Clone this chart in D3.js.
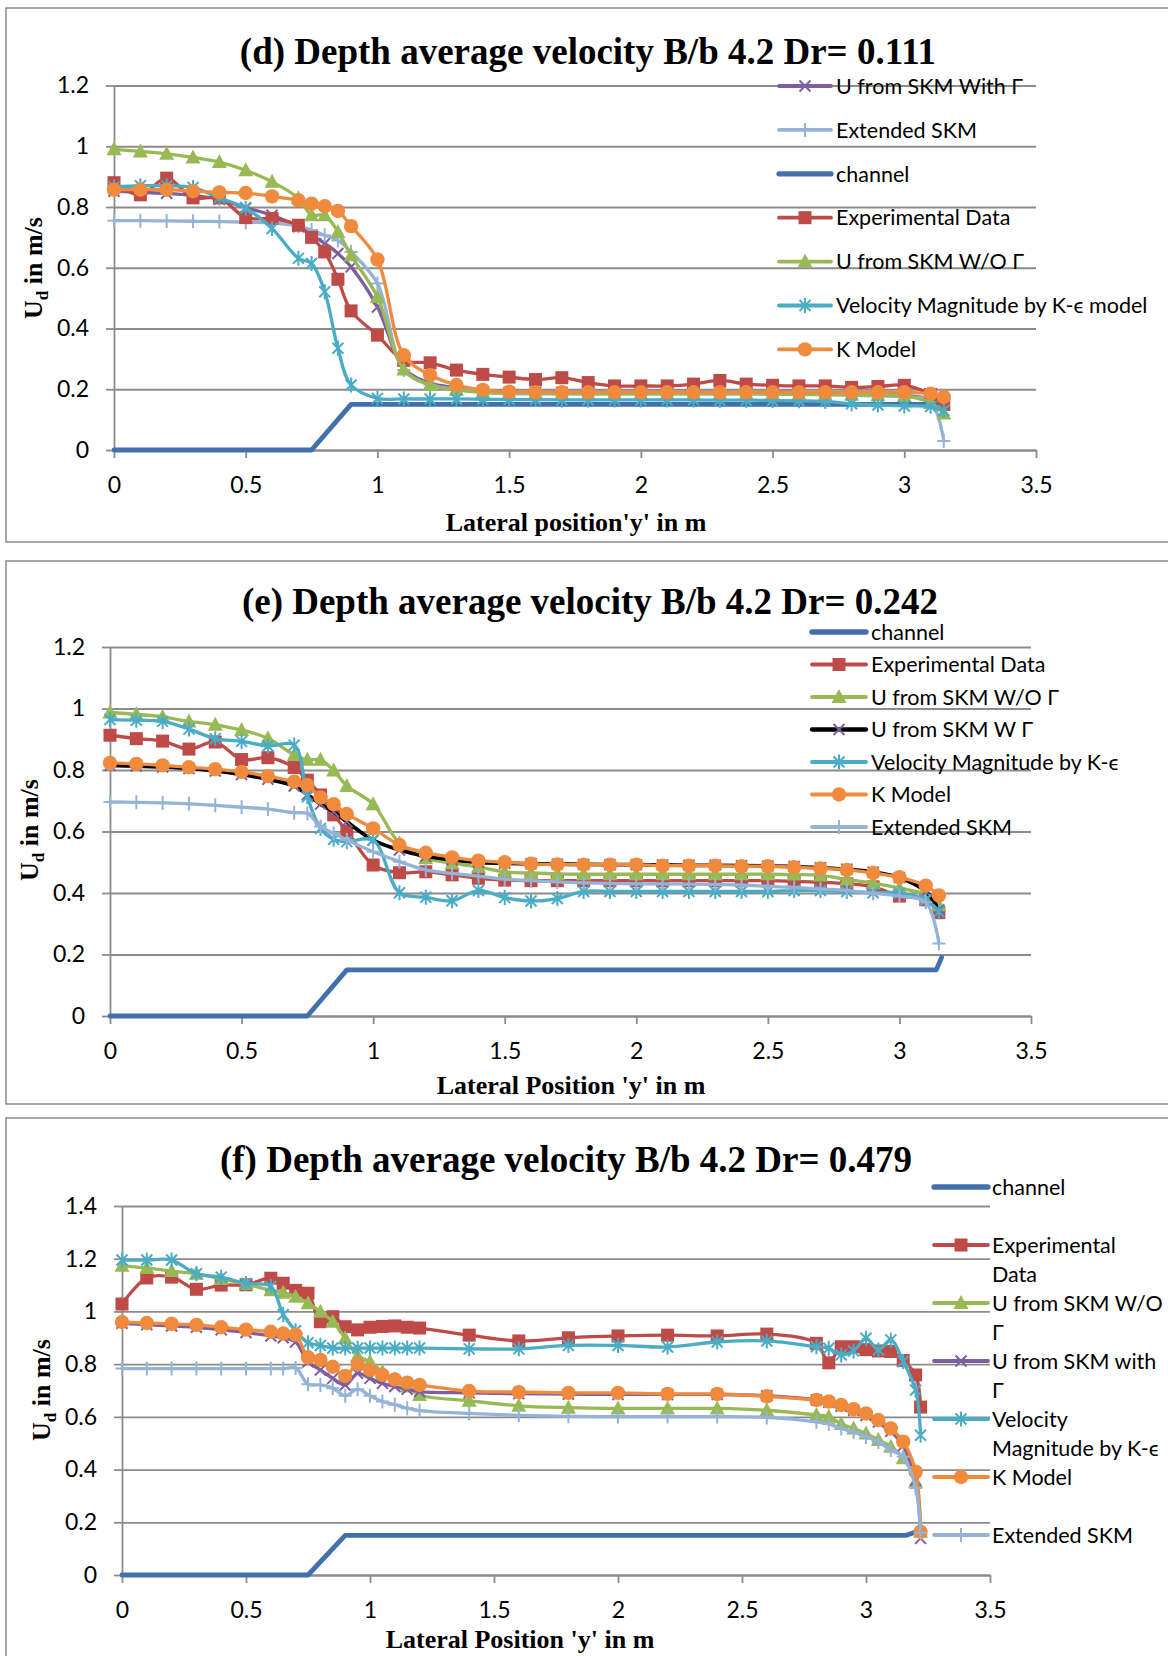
<!DOCTYPE html>
<html>
<head>
<meta charset="utf-8">
<script src="https://cdn.jsdelivr.net/npm/d3@7"></script>
<style>
  body { margin: 0; background: #fff; }
  svg { display: block; }
</style>
</head>
<body>
<svg id="chart" width="1168" height="1656"></svg>
<script>
// ---------------- DATA ----------------
const xTicks = [0, 0.5, 1, 1.5, 2, 2.5, 3, 3.5];
const yTicksDE = [0, 0.2, 0.4, 0.6, 0.8, 1, 1.2];
const yTicksF = [0, 0.2, 0.4, 0.6, 0.8, 1, 1.2, 1.4];

// lateral positions of the measured / computed points
const xD = [0, 0.1, 0.2, 0.3, 0.4, 0.5, 0.6, 0.7, 0.75, 0.8, 0.85, 0.9, 1.0, 1.1, 1.2, 1.3, 1.4,
  1.5, 1.6, 1.7, 1.8, 1.9, 2.0, 2.1, 2.2, 2.3, 2.4, 2.5, 2.6,
  2.7, 2.8, 2.9, 3.0, 3.1, 3.15];
const xE = xD;
const xF = [0, 0.1, 0.2, 0.3, 0.4, 0.5, 0.6,
  0.65, 0.7, 0.75, 0.8, 0.85, 0.9, 0.95, 1.0, 1.05, 1.1, 1.15, 1.2,
  1.4, 1.6, 1.8, 2.0, 2.2, 2.4, 2.6,
  2.8, 2.85, 2.9, 2.95, 3.0, 3.05, 3.1, 3.15, 3.2, 3.22];

// channel cross-section outline
const chanXD = [0, 0.75, 0.9, 3.15];
const chanYD = [0, 0, 0.15, 0.15];
const chanXE = [0, 0.75, 0.9, 3.14, 3.16];
const chanYE = [0, 0, 0.15, 0.15, 0.19];
const chanXF = [0, 0.75, 0.9, 3.16, 3.22];
const chanYF = [0, 0, 0.15, 0.15, 0.17];

// (d) Dr = 0.111
const dWithG = [0.852, 0.848, 0.845, 0.838, 0.825, 0.798, 0.773, 0.735, 0.707, 0.68, 0.647, 0.603, 0.471, 0.27, 0.22, 0.205, 0.195,
  0.19, 0.19, 0.19, 0.19, 0.19, 0.19, 0.19, 0.19, 0.19, 0.19, 0.19, 0.19,
  0.188, 0.186, 0.184, 0.18, 0.17, 0.16];
const dExt = [0.755, 0.755, 0.754, 0.753, 0.752, 0.75, 0.748, 0.737, 0.724, 0.707, 0.69, 0.652, 0.548, 0.263, 0.215, 0.2, 0.19,
  0.186, 0.185, 0.185, 0.185, 0.185, 0.185, 0.185, 0.185, 0.185, 0.185, 0.184, 0.183,
  0.182, 0.18, 0.178, 0.175, 0.16, 0.03];
const dExp = [0.88, 0.84, 0.895, 0.83, 0.83, 0.765, 0.762, 0.74, 0.70, 0.652, 0.562, 0.458, 0.378, 0.295, 0.287, 0.263, 0.249,
  0.24, 0.232, 0.238, 0.222, 0.211, 0.211, 0.211, 0.217, 0.229, 0.217, 0.213, 0.211,
  0.211, 0.206, 0.209, 0.213, 0.183, 0.15];
const dWo = [0.99, 0.983, 0.975, 0.963, 0.948, 0.921, 0.883, 0.829, 0.773, 0.773, 0.718, 0.641, 0.504, 0.265, 0.214, 0.198, 0.19,
  0.188, 0.187, 0.186, 0.185, 0.185, 0.185, 0.185, 0.185, 0.185, 0.185, 0.185, 0.184,
  0.183, 0.182, 0.18, 0.178, 0.155, 0.12];
const dKe = [0.866, 0.87, 0.87, 0.864, 0.83, 0.796, 0.729, 0.631, 0.614, 0.521, 0.335, 0.214, 0.17, 0.168, 0.168, 0.168, 0.167,
  0.166, 0.166, 0.165, 0.165, 0.165, 0.165, 0.165, 0.165, 0.164, 0.164, 0.163, 0.162,
  0.16, 0.152, 0.148, 0.145, 0.143, 0.13];
const dK = [0.857, 0.857, 0.857, 0.852, 0.848, 0.846, 0.835, 0.822, 0.811, 0.803, 0.787, 0.737, 0.627, 0.312, 0.247, 0.214, 0.198,
  0.192, 0.19, 0.19, 0.19, 0.19, 0.19, 0.19, 0.19, 0.19, 0.19, 0.19, 0.19,
  0.19, 0.19, 0.19, 0.19, 0.185, 0.175];

// (e) Dr = 0.242
const eExp = [0.913, 0.902, 0.894, 0.868, 0.891, 0.834, 0.84, 0.808, 0.767, 0.719, 0.654, 0.602, 0.491, 0.466, 0.469, 0.459, 0.448,
  0.442, 0.44, 0.44, 0.44, 0.44, 0.44, 0.44, 0.44, 0.44, 0.44, 0.44, 0.438,
  0.435, 0.43, 0.42, 0.39, 0.378, 0.336];
const eWo = [0.987, 0.981, 0.973, 0.958, 0.947, 0.93, 0.903, 0.849, 0.833, 0.833, 0.798, 0.748, 0.689, 0.562, 0.513, 0.497, 0.485,
  0.469, 0.465, 0.462, 0.461, 0.461, 0.461, 0.461, 0.461, 0.461, 0.461, 0.461, 0.46,
  0.457, 0.444, 0.432, 0.416, 0.395, 0.36];
const eWithG = [0.815, 0.813, 0.81, 0.805, 0.797, 0.785, 0.77, 0.748, 0.72, 0.689, 0.664, 0.632, 0.572, 0.54, 0.52, 0.508, 0.5,
  0.497, 0.495, 0.494, 0.493, 0.492, 0.492, 0.491, 0.49, 0.49, 0.489, 0.488, 0.486,
  0.482, 0.477, 0.468, 0.45, 0.405, 0.345];
const eKe = [0.964, 0.962, 0.958, 0.933, 0.902, 0.893, 0.878, 0.881, 0.713, 0.61, 0.575, 0.567, 0.572, 0.401, 0.386, 0.375, 0.408,
  0.385, 0.374, 0.382, 0.405, 0.405, 0.405, 0.405, 0.405, 0.405, 0.405, 0.405, 0.408,
  0.408, 0.405, 0.401, 0.4, 0.377, 0.339];
const eK = [0.823, 0.82, 0.815, 0.809, 0.803, 0.794, 0.78, 0.762, 0.751, 0.711, 0.689, 0.657, 0.61, 0.556, 0.531, 0.516, 0.505,
  0.5, 0.495, 0.493, 0.492, 0.492, 0.492, 0.489, 0.489, 0.489, 0.487, 0.487, 0.484,
  0.48, 0.475, 0.465, 0.451, 0.424, 0.392];
const eExt = [0.696, 0.695, 0.693, 0.69, 0.685, 0.679, 0.673, 0.661, 0.659, 0.616, 0.594, 0.572, 0.534, 0.502, 0.475, 0.464, 0.455,
  0.445, 0.44, 0.436, 0.433, 0.431, 0.43, 0.43, 0.429, 0.428, 0.426, 0.422, 0.418,
  0.413, 0.408, 0.399, 0.39, 0.37, 0.236];

// (f) Dr = 0.479
const fExp = [1.028, 1.127, 1.13, 1.084, 1.10, 1.101, 1.126,
  1.107, 1.08, 1.069, 0.961, 0.98, 0.942, 0.93, 0.94, 0.943, 0.945, 0.94, 0.937,
  0.91, 0.888, 0.9, 0.907, 0.91, 0.907, 0.914,
  0.879, 0.805, 0.866, 0.866, 0.855, 0.85, 0.848, 0.814, 0.759, 0.637];
const fWo = [1.173, 1.165, 1.153, 1.143, 1.123, 1.104, 1.08,
  1.071, 1.056, 1.031, 0.999, 0.961, 0.898, 0.831, 0.809, 0.771, 0.742, 0.715, 0.683,
  0.661, 0.642, 0.635, 0.632, 0.632, 0.632, 0.625,
  0.607, 0.6, 0.573, 0.556, 0.537, 0.512, 0.487, 0.443, 0.354, 0.164];
const fWithG = [0.955, 0.95, 0.945, 0.94, 0.93, 0.92, 0.907,
  0.9, 0.884, 0.809, 0.778, 0.746, 0.721, 0.765, 0.746, 0.727, 0.715, 0.705, 0.696,
  0.691, 0.688, 0.686, 0.685, 0.685, 0.685, 0.68,
  0.664, 0.655, 0.64, 0.625, 0.605, 0.58, 0.545, 0.49, 0.36, 0.139];
const fKe = [1.195, 1.195, 1.195, 1.143, 1.13, 1.106, 1.095,
  0.988, 0.927, 0.881, 0.871, 0.861, 0.861, 0.861, 0.861, 0.861, 0.861, 0.861, 0.861,
  0.858, 0.858, 0.871, 0.871, 0.865, 0.884, 0.888,
  0.866, 0.86, 0.835, 0.85, 0.898, 0.854, 0.892, 0.81, 0.702, 0.53];
const fK = [0.96, 0.956, 0.953, 0.949, 0.94, 0.931, 0.923,
  0.916, 0.912, 0.826, 0.816, 0.79, 0.755, 0.8, 0.778, 0.759, 0.742, 0.73, 0.721,
  0.698, 0.694, 0.691, 0.691, 0.687, 0.687, 0.678,
  0.664, 0.658, 0.645, 0.629, 0.613, 0.588, 0.556, 0.506, 0.392, 0.164];
const fExt = [0.783, 0.783, 0.783, 0.783, 0.783, 0.783, 0.783,
  0.783, 0.785, 0.724, 0.721, 0.709, 0.68, 0.705, 0.68, 0.658, 0.646, 0.633, 0.624,
  0.613, 0.606, 0.602, 0.601, 0.601, 0.601, 0.598,
  0.581, 0.573, 0.556, 0.543, 0.524, 0.505, 0.474, 0.449, 0.33, 0.16];

// titles and legend labels
const titles = ['(d) Depth average velocity B/b 4.2 Dr= 0.111',
  '(e) Depth average velocity B/b 4.2 Dr= 0.242',
  '(f) Depth average velocity B/b 4.2 Dr= 0.479'];
const xTitles = ["Lateral position'y' in m", "Lateral Position 'y' in m", "Lateral Position 'y' in m"];
const legendD = ['U from SKM With Γ', 'Extended SKM', 'channel', 'Experimental Data',
  'U from SKM W/O Γ', 'Velocity Magnitude by K-ϵ model', 'K Model'];
const legendE = ['channel', 'Experimental Data', 'U from SKM W/O Γ', 'U from SKM W Γ',
  'Velocity Magnitude by K-ϵ', 'K Model', 'Extended SKM'];
const legendF = [['channel'], ['Experimental', 'Data'], ['U from SKM W/O', 'Γ'], ['U from SKM with', 'Γ'],
  ['Velocity', 'Magnitude by K-ϵ'], ['K Model'], ['Extended SKM']];

// ---------------- STYLES ----------------
const styles = {
  channel: { line: '#4170AD', width: 4.8, marker: null, curve: d3.curveLinear },
  exp: { line: '#BE4B48', width: 3.3, marker: 'square', mcolor: '#BE4B48' },
  wo: { line: '#98B954', width: 3.3, marker: 'triangle', mcolor: '#98B954' },
  withG: { line: '#7D5FA0', width: 3.3, marker: 'x', mcolor: '#7D5FA0' },
  withGBlack: { line: '#000000', width: 3.8, marker: 'x', mcolor: '#7D5FA0' },
  ke: { line: '#4AACC5', width: 3.3, marker: 'star', mcolor: '#4AACC5' },
  k: { line: '#F08A3C', width: 3.3, marker: 'circle', mcolor: '#F08A3C' },
  ext: { line: '#95B3D7', width: 3.3, marker: 'plus', mcolor: '#95B3D7' }
};
const smooth = d3.curveCatmullRom.alpha(0.5);
const GRID = '#8C8C8C';
const SERIF = "'Liberation Serif', 'Times New Roman', serif";
const SANS = "Lato, 'Open Sans', sans-serif";

// panel layouts
const panels = [
  {
    box: [6, 8, 1180, 534], left: 114, right: 1036, top: 85.5, bottom: 450, yMax: 1.2, yTicks: yTicksDE,
    title: titles[0], titleX: 588, titleY: 64, xTitle: xTitles[0], xTitleX: 576, xTitleY: 531, yTitleX: 42, yTitleY: 268,
    series: [['withG', xD, dWithG], ['ext', xD, dExt], ['channel', chanXD, chanYD], ['exp', xD, dExp],
      ['wo', xD, dWo], ['ke', xD, dKe], ['k', xD, dK]],
    legend: { labels: legendD.map(l => [l]), x0: 779, x1: 831, tx: 836, top: 86, step: 43.9, lineStep: 0 }
  },
  {
    box: [6, 561, 1180, 543], left: 110, right: 1031, top: 647, bottom: 1016, yMax: 1.2, yTicks: yTicksDE,
    title: titles[1], titleX: 590, titleY: 614, xTitle: xTitles[1], xTitleX: 571, xTitleY: 1094, yTitleX: 38, yTitleY: 830,
    series: [['channel', chanXE, chanYE], ['exp', xE, eExp], ['wo', xE, eWo], ['withGBlack', xE, eWithG],
      ['ke', xE, eKe], ['k', xE, eK], ['ext', xE, eExt]],
    legend: { labels: legendE.map(l => [l]), x0: 812, x1: 866, tx: 871, top: 632, step: 32.5, lineStep: 0 }
  },
  {
    box: [6, 1118, 1180, 560], left: 122, right: 990, top: 1206, bottom: 1575, yMax: 1.4, yTicks: yTicksF,
    title: titles[2], titleX: 566, titleY: 1172, xTitle: xTitles[2], xTitleX: 520, xTitleY: 1648, yTitleX: 50, yTitleY: 1390,
    series: [['channel', chanXF, chanYF], ['exp', xF, fExp], ['wo', xF, fWo], ['withG', xF, fWithG],
      ['ke', xF, fKe], ['k', xF, fK], ['ext', xF, fExt]],
    legend: { labels: legendF, x0: 934, x1: 988, tx: 992, top: 1187, step: 58, lineStep: 29 }
  }
];

const svg = d3.select('#chart');

// draw one marker shape into a <g> centred on 0,0
function drawMarker(g, type, color) {
  if (type === 'circle') {
    g.append('circle').attr('r', 7.2).attr('fill', color);
  } else if (type === 'square') {
    g.append('rect').attr('x', -6.5).attr('y', -6.5).attr('width', 13).attr('height', 13).attr('fill', color);
  } else if (type === 'triangle') {
    g.append('path').attr('d', 'M0,-8L7.5,6L-7.5,6Z').attr('fill', color);
  } else {
    const paths = {
      x: 'M-5.5,-5.5L5.5,5.5M-5.5,5.5L5.5,-5.5',
      plus: 'M-6.5,0H6.5M0,-7V7',
      star: 'M-5.5,-5.5L5.5,5.5M-5.5,5.5L5.5,-5.5M0,-7.5V7.5'
    };
    g.append('path').attr('d', paths[type]).attr('fill', 'none')
      .attr('stroke', color).attr('stroke-width', 2);
  }
}

function drawPanel(p) {
  const g = svg.append('g');

  // outer frame
  g.append('rect')
    .attr('x', p.box[0]).attr('y', p.box[1]).attr('width', p.box[2]).attr('height', p.box[3])
    .attr('fill', 'none').attr('stroke', GRID).attr('stroke-width', 1.5);

  const x = d3.scaleLinear().domain([0, 3.5]).range([p.left, p.right]);
  const y = d3.scaleLinear().domain([0, p.yMax]).range([p.bottom, p.top]);

  // horizontal gridlines
  g.append('g')
    .attr('transform', `translate(${p.left},0)`)
    .call(d3.axisLeft(y).tickValues(p.yTicks).tickSize(-(p.right - p.left)).tickFormat(''))
    .call(a => a.select('.domain').remove())
    .call(a => a.selectAll('line').attr('stroke', GRID).attr('stroke-width', 1.8));

  // y axis with outward ticks and labels
  g.append('g')
    .attr('transform', `translate(${p.left},0)`)
    .call(d3.axisLeft(y).tickValues(p.yTicks).tickSize(8).tickSizeOuter(0).tickPadding(17).tickFormat(d => String(d)))
    .call(a => a.select('.domain').attr('stroke', GRID).attr('stroke-width', 1.8))
    .call(a => a.selectAll('line').attr('stroke', GRID).attr('stroke-width', 1.8))
    .call(a => a.selectAll('text').attr('font-family', SANS).attr('font-size', 23).attr('fill', '#000'));

  // x axis
  g.append('g')
    .attr('transform', `translate(0,${p.bottom})`)
    .call(d3.axisBottom(x).tickValues(xTicks).tickSize(8).tickSizeOuter(0).tickPadding(19).tickFormat(d => String(d)))
    .call(a => a.select('.domain').attr('stroke', GRID).attr('stroke-width', 1.8))
    .call(a => a.selectAll('line').attr('stroke', GRID).attr('stroke-width', 1.8))
    .call(a => a.selectAll('text').attr('font-family', SANS).attr('font-size', 23).attr('fill', '#000'));

  // series: each line then its markers, in series order
  p.series.forEach(([key, xs, ys]) => {
    const st = styles[key];
    const pts = xs.map((v, i) => [v, ys[i]]);
    const line = d3.line().x(d => x(d[0])).y(d => y(d[1])).curve(st.curve || smooth);
    const sg = g.append('g');
    sg.append('path').attr('d', line(pts)).attr('fill', 'none')
      .attr('stroke', st.line).attr('stroke-width', st.width)
      .attr('stroke-linejoin', 'round').attr('stroke-linecap', 'round');
    if (st.marker) {
      sg.selectAll('g.mk').data(pts).join('g')
        .attr('class', 'mk')
        .attr('transform', d => `translate(${x(d[0])},${y(d[1])})`)
        .each(function () { drawMarker(d3.select(this), st.marker, st.mcolor); });
    }
  });

  // legend (sits over the plot, no background)
  const lg = g.append('g');
  p.series.forEach(([key], i) => {
    const st = styles[key];
    const cy = p.legend.top + i * p.legend.step;
    lg.append('line')
      .attr('x1', p.legend.x0).attr('x2', p.legend.x1).attr('y1', cy).attr('y2', cy)
      .attr('stroke', st.line).attr('stroke-width', st.width + 0.5).attr('stroke-linecap', 'round');
    if (st.marker) {
      const mg = lg.append('g').attr('transform', `translate(${(p.legend.x0 + p.legend.x1) / 2},${cy})`);
      drawMarker(mg, st.marker, st.mcolor);
    }
    p.legend.labels[i].forEach((txt, j) => {
      lg.append('text')
        .attr('x', p.legend.tx).attr('y', cy + j * p.legend.lineStep)
        .attr('dy', '0.36em')
        .attr('font-family', SANS).attr('font-size', 21.5).attr('fill', '#000')
        .text(txt);
    });
  });

  // chart title
  g.append('text')
    .attr('x', p.titleX).attr('y', p.titleY).attr('text-anchor', 'middle')
    .attr('font-family', SERIF).attr('font-weight', 'bold').attr('font-size', 37)
    .text(p.title);

  // x axis title
  g.append('text')
    .attr('x', p.xTitleX).attr('y', p.xTitleY).attr('text-anchor', 'middle')
    .attr('font-family', SERIF).attr('font-weight', 'bold').attr('font-size', 26)
    .text(p.xTitle);

  // y axis title with subscript d
  const yt = g.append('text')
    .attr('transform', `translate(${p.yTitleX},${p.yTitleY}) rotate(-90)`)
    .attr('text-anchor', 'middle')
    .attr('font-family', SERIF).attr('font-weight', 'bold').attr('font-size', 26);
  yt.append('tspan').text('U');
  yt.append('tspan').attr('font-size', 17).attr('dy', 6).text('d');
  yt.append('tspan').attr('dy', -6).text(' in m/s');
}

panels.forEach(drawPanel);
</script>
</body>
</html>
